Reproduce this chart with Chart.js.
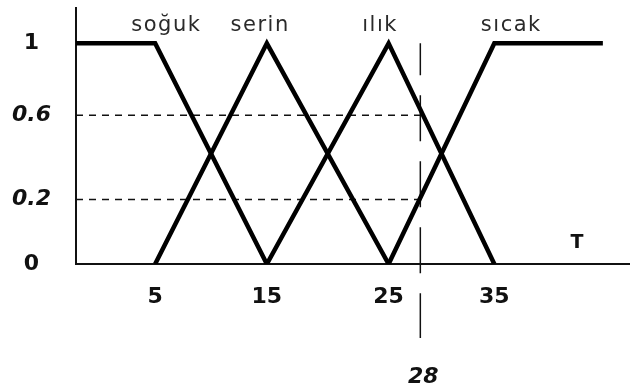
<!DOCTYPE html>
<html>
<head>
<meta charset="utf-8">
<script src="https://cdn.jsdelivr.net/npm/chart.js@4.4.1/dist/chart.umd.min.js"></script>
<style>
    html, body { margin: 0; padding: 0; background: #fff; }
    .chart-box { width: 630px; height: 391px; position: relative; }
</style>
</head>
<body>
<div class="chart-box"><canvas id="fuzzyChart"></canvas></div>
<script>
// membership sets for temperature T
const names = ['soğuk', 'serin', 'ılık', 'sıcak'];
const nameX = [6, 14.4, 24.3, 36.5];
const sogukX = [-2, 5, 15];
const sogukY = [1, 1, 0];
const serinX = [5, 15, 25];
const serinY = [0, 1, 0];
const ilikX = [15, 25, 35];
const ilikY = [0, 1, 0];
const sicakX = [25, 35, 44.6];
const sicakY = [0, 1, 1];
const xTicks = [5, 15, 25, 35];
const yTicks = [0, 0.2, 0.6, 1];
const cutX = 28;
const cutLevels = [0.6, 0.2];

// hand-drawn axes are not evenly spaced, so each axis gets a piecewise mapping
const xKnots = [[5, 5], [15, 14.88], [25, 25.65], [35, 35]];
const yKnots = [[0, 0], [0.2, 0.292], [0.6, 0.674], [1, 1]];

function piecewise(knots, v, a, b) {
    const last = knots.length - 1;
    if (v <= knots[0][a]) return v - knots[0][a] + knots[0][b];
    if (v >= knots[last][a]) return v - knots[last][a] + knots[last][b];
    for (let i = 0; i < last; i++) {
        const k0 = knots[i], k1 = knots[i + 1];
        if (v <= k1[a]) return k0[b] + (v - k0[a]) * (k1[b] - k0[b]) / (k1[a] - k0[a]);
    }
    return v;
}

const knotsFor = { x: xKnots, y: yKnots };

class WarpScale extends Chart.LinearScale {
    static id = 'warp';
    static defaults = Chart.LinearScale.defaults;
    getPixelForValue(value) {
        if (value === null || value === undefined) return NaN;
        return super.getPixelForValue(piecewise(knotsFor[this.id], value, 0, 1));
    }
    getValueForPixel(pixel) {
        return piecewise(knotsFor[this.id], super.getValueForPixel(pixel), 1, 0);
    }
}
Chart.register(WarpScale);

const pts = (xs, ys) => xs.map((x, i) => ({ x: x, y: ys[i] }));

const shape = (label, xs, ys) => ({
    label: label,
    data: pts(xs, ys),
    borderColor: '#000',
    borderWidth: 4.5,
    pointRadius: 0,
    tension: 0
});

const datasets = [
    shape(names[0], sogukX, sogukY),
    shape(names[1], serinX, serinY),
    shape(names[2], ilikX, ilikY),
    shape(names[3], sicakX, sicakY)
];

cutLevels.forEach(level => {
    datasets.push({
        label: 'level ' + level,
        data: [{ x: -2, y: level }, { x: cutX, y: level }],
        borderColor: '#111',
        borderWidth: 1.5,
        borderDash: [7, 6],
        pointRadius: 0
    });
});

datasets.push({
    label: 'T = ' + cutX,
    data: [{ x: cutX, y: 1 }, { x: cutX, y: -0.335 }],
    borderColor: '#111',
    borderWidth: 1.5,
    borderDash: [46, 20],
    borderDashOffset: 14,
    pointRadius: 0,
    clip: false
});

// set names, the 28 cut value and the T axis name
const annotate = {
    id: 'annotate',
    afterDatasetsDraw(chart) {
        const { ctx, chartArea, scales: { x } } = chart;
        ctx.save();
        ctx.textAlign = 'center';
        ctx.textBaseline = 'alphabetic';
        ctx.fillStyle = '#2a2a2a';
        ctx.font = '21px "DejaVu Sans"';
        ctx.letterSpacing = '1.5px';
        names.forEach((n, i) => ctx.fillText(n, x.getPixelForValue(nameX[i]), chartArea.top + 23));
        ctx.letterSpacing = '0px';
        ctx.fillStyle = '#111';
        ctx.font = 'italic bold 22px "DejaVu Sans"';
        ctx.fillText(String(cutX), x.getPixelForValue(cutX) + 3, chartArea.bottom + 119);
        ctx.font = 'bold 19px "DejaVu Sans"';
        ctx.fillText('T', x.getPixelForValue(42.3), chartArea.bottom - 16);
        ctx.restore();
    }
};

document.addEventListener('DOMContentLoaded', function() {
    const ctx = document.querySelector('#fuzzyChart').getContext('2d');
    new Chart(ctx, {
        type: 'line',
        data: { datasets: datasets },
        options: {
            responsive: true,
            maintainAspectRatio: false,
            animation: false,
            layout: { autoPadding: false, padding: { top: 8, left: 0, right: 0, bottom: 0 } },
            plugins: {
                legend: { display: false },
                tooltip: { enabled: false }
            },
            scales: {
                x: {
                    type: 'warp',
                    min: -2,
                    max: 47,
                    grid: { display: false, drawTicks: false },
                    border: { display: true, color: '#111', width: 2 },
                    afterBuildTicks: axis => { axis.ticks = xTicks.map(v => ({ value: v })); },
                    afterFit: axis => {
                        axis.height = 127;
                        axis.paddingLeft = axis.paddingRight = 0;
                        axis.paddingTop = axis.paddingBottom = 0;
                    },
                    ticks: {
                        padding: 20,
                        maxRotation: 0,
                        color: '#111',
                        font: { family: 'DejaVu Sans', size: 22, weight: 'bold' },
                        callback: v => String(v)
                    }
                },
                y: {
                    type: 'warp',
                    min: 0,
                    max: 1.16,
                    grid: { display: false, drawTicks: false },
                    border: { display: true, color: '#111', width: 2 },
                    afterBuildTicks: axis => { axis.ticks = yTicks.map(v => ({ value: v })); },
                    afterFit: axis => {
                        axis.width = 76;
                        axis.paddingTop = axis.paddingBottom = 0;
                        axis.paddingLeft = axis.paddingRight = 0;
                    },
                    ticks: {
                        padding: 25,
                        crossAlign: 'center',
                        color: '#111',
                        font: c => ({
                            family: 'DejaVu Sans',
                            size: 22,
                            weight: 'bold',
                            style: c.tick && c.tick.value % 1 !== 0 ? 'italic' : 'normal'
                        }),
                        callback: v => String(v)
                    }
                }
            }
        },
        plugins: [annotate]
    });
});
</script>
</body>
</html>
